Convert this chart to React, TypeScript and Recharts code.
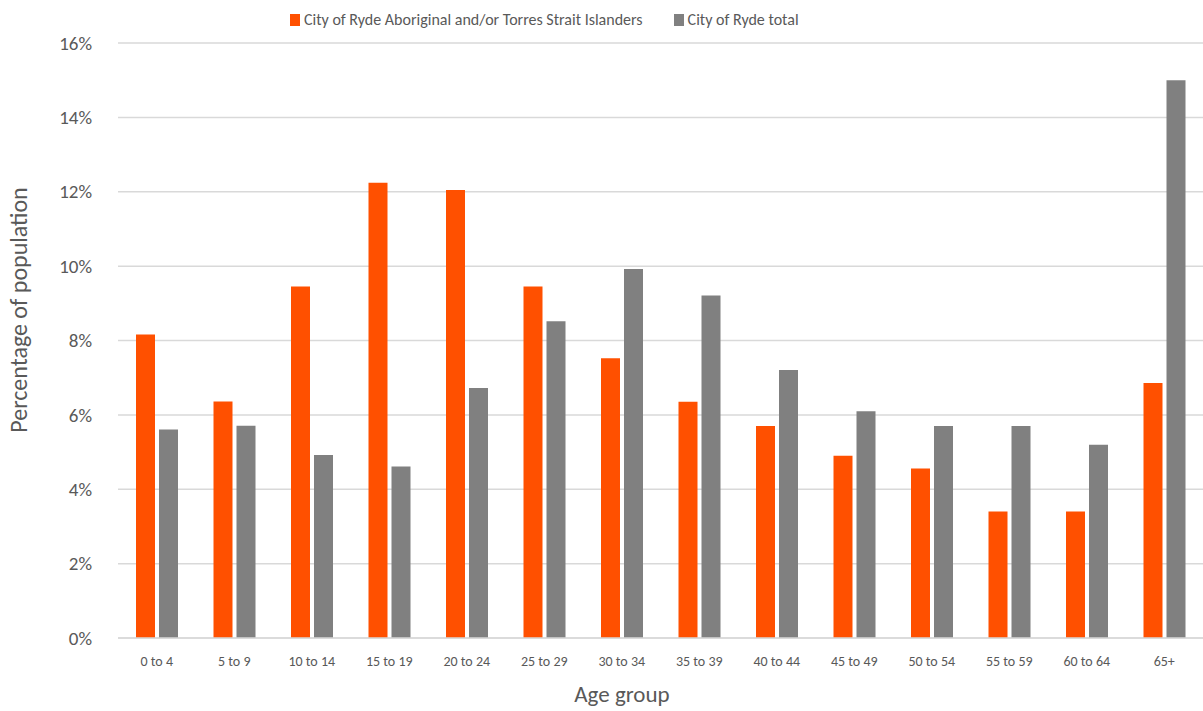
import React from "react";
import { BarChart, Bar, XAxis, YAxis, CartesianGrid } from "recharts";

const categories = ["0 to 4", "5 to 9", "10 to 14", "15 to 19", "20 to 24", "25 to 29", "30 to 34", "35 to 39", "40 to 44", "45 to 49", "50 to 54", "55 to 59", "60 to 64", "65+"];
const aboriginal = [8.16, 6.36, 9.45, 12.24, 12.05, 9.45, 7.52, 6.35, 5.7, 4.9, 4.56, 3.4, 3.4, 6.86];
const total = [5.61, 5.71, 4.92, 4.61, 6.72, 8.52, 9.92, 9.21, 7.21, 6.1, 5.7, 5.7, 5.2, 15.0];
const yTicks = [0, 2, 4, 6, 8, 10, 12, 14, 16];
const seriesNames = ["City of Ryde Aboriginal and/or Torres Strait Islanders", "City of Ryde total"];
const colors = ["#FF5000", "#808080"];

const data = categories.map((c, i) => ({ name: c, a: aboriginal[i], t: total[i] }));

const FONT = "Calibri, Carlito, Lato, sans-serif";
const TEXT = "#595959";

export default function App() {
  return (
    <div style={{ position: "absolute", left: 0, top: 0, width: 1203, height: 711, background: "#fff", fontFamily: FONT }}>
      <div style={{ position: "absolute", left: 290, top: 10, display: "flex", gap: 31, fontSize: 16, color: TEXT, lineHeight: "20px", zIndex: 2 }}>
        {seriesNames.map((n, i) => (
          <div key={n} style={{ display: "flex", alignItems: "center" }}>
            <span style={{ display: "inline-block", width: 10, height: 12, background: colors[i], marginRight: 4 }} />
            <span>{n}</span>
          </div>
        ))}
      </div>
      <BarChart width={1203} height={711} data={data} margin={{ top: 43, right: 0, left: 0, bottom: 0 }} barSize={19} barGap={4}>
        <CartesianGrid vertical={false} stroke="#D9D9D9" strokeWidth={1.5} />
        <XAxis
          dataKey="name"
          height={73}
          axisLine={{ stroke: "#D9D9D9", strokeWidth: 1.5 }}
          tickLine={false}
          tick={{ fill: TEXT, fontSize: 14, fontFamily: FONT }}
          tickMargin={12}
          interval={0}
          label={(p: any) => (
            <text x={622} y={702} textAnchor="middle" fill={TEXT} fontSize={23} fontFamily={FONT}>Age group</text>
          )}
        />
        <YAxis
          width={118}
          domain={[0, 16]}
          ticks={yTicks}
          tickFormatter={(v) => `${v}%`}
          axisLine={false}
          tickLine={false}
          tick={{ fill: TEXT, fontSize: 19, fontFamily: FONT }}
          tickMargin={20}
          label={(p: any) => (
            <text x={27} y={310} transform="rotate(-90 27 310)" textAnchor="middle" fill={TEXT} fontSize={24} fontFamily={FONT}>Percentage of population</text>
          )}
        />
        <Bar dataKey="a" name={seriesNames[0]} fill={colors[0]} isAnimationActive={false} />
        <Bar dataKey="t" name={seriesNames[1]} fill={colors[1]} isAnimationActive={false} />
      </BarChart>
    </div>
  );
}
